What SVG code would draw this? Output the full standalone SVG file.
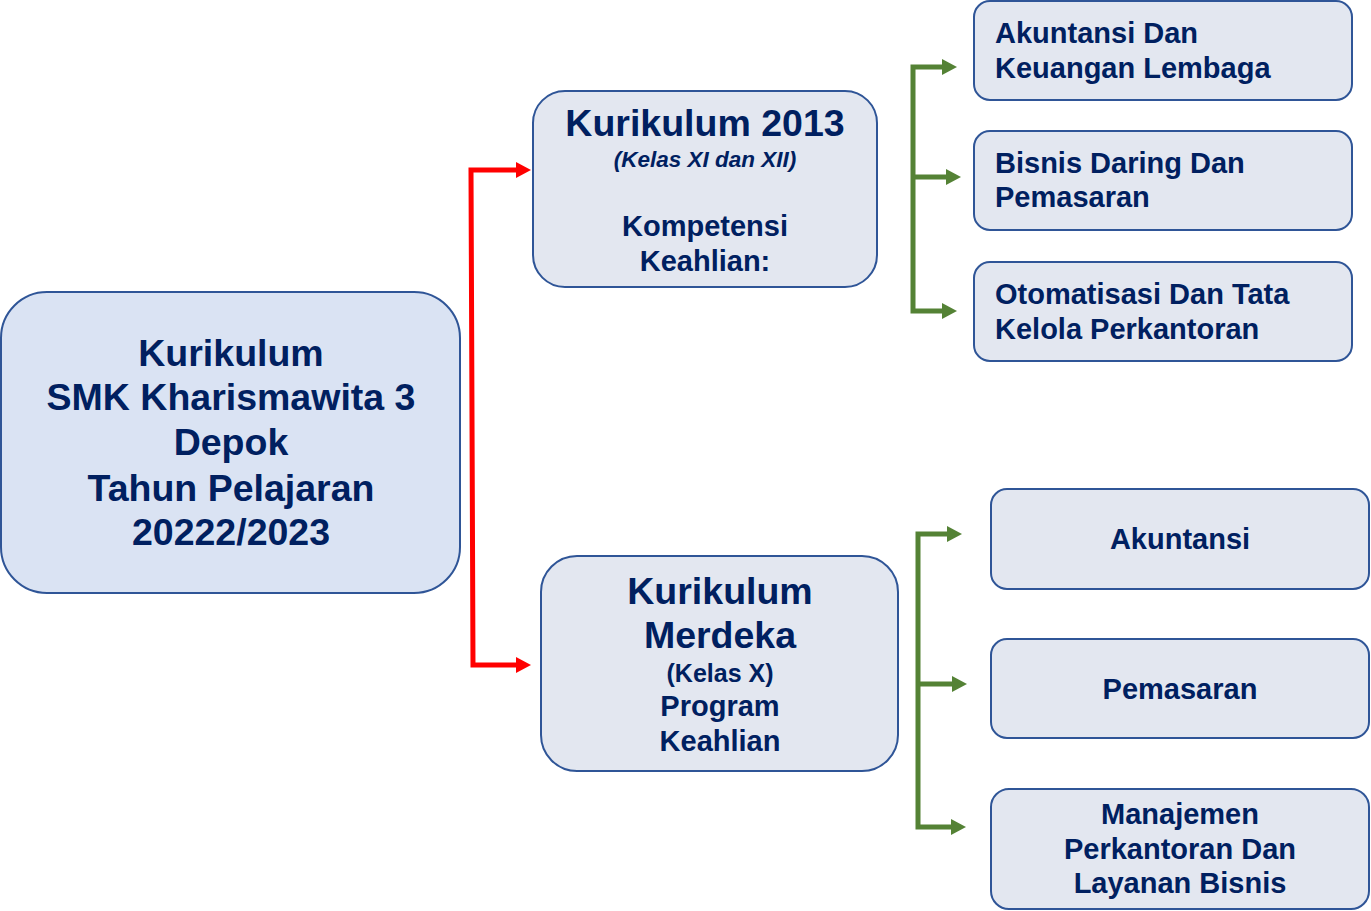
<svg xmlns="http://www.w3.org/2000/svg" width="1371" height="911" viewBox="0 0 1371 911">
<style>
.box{fill:#e3e7f0;stroke:#2f5597;stroke-width:2}
.main{fill:#dae3f3;stroke:#2f5597;stroke-width:2}
text{font-family:"Liberation Sans",Arial,sans-serif;font-weight:bold;fill:#002060}
.c{text-anchor:middle}
.big{font-size:37.5px}
.mid{font-size:29px}
.red{stroke:#ff0000;stroke-width:5;fill:none}
.green{stroke:#548235;stroke-width:5;fill:none}
.rh{fill:#ff0000}
.gh{fill:#548235}
</style>
<defs>
<polygon id="redhead" class="rh" points="-15,-8 0,0 -15,8"/>
<polygon id="greenhead" class="gh" points="-15,-8 0,0 -15,8"/>
</defs>
<rect width="1371" height="911" fill="#ffffff"/>
<g id="connectors">
<polyline class="red" points="518,170 471,170 473,665 518,665"/>
<use href="#redhead" x="531" y="170"/>
<use href="#redhead" x="531" y="665"/>
<polyline class="green" points="945,67 913,67 913,311 945,311"/>
<line class="green" x1="913" y1="177" x2="949" y2="177"/>
<use href="#greenhead" x="957" y="67"/>
<use href="#greenhead" x="961" y="177"/>
<use href="#greenhead" x="957" y="311"/>
<polyline class="green" points="950,534 918,534 918,827 954,827"/>
<line class="green" x1="918" y1="684" x2="955" y2="684"/>
<use href="#greenhead" x="962" y="534"/>
<use href="#greenhead" x="967" y="684"/>
<use href="#greenhead" x="966" y="827"/>
</g>
<g id="main">
<rect class="main" x="1" y="292" width="459" height="301" rx="46"/>
<text class="c big" x="231" y="366">Kurikulum</text>
<text class="c big" x="231" y="410">SMK Kharismawita 3</text>
<text class="c big" x="231" y="455">Depok</text>
<text class="c big" x="231" y="501">Tahun Pelajaran</text>
<text class="c big" x="231" y="545">20222/2023</text>
</g>
<g id="k2013">
<rect class="box" x="533" y="91" width="344" height="196" rx="32"/>
<text class="c big" x="705" y="136">Kurikulum 2013</text>
<text class="c" x="705" y="167" font-size="22.5" font-style="italic">(Kelas XI dan XII)</text>
<text class="c mid" x="705" y="236">Kompetensi</text>
<text class="c mid" x="705" y="271">Keahlian:</text>
</g>
<g id="merdeka">
<rect class="box" x="541" y="556" width="357" height="215" rx="36"/>
<text class="c big" x="720" y="604">Kurikulum</text>
<text class="c big" x="720" y="648">Merdeka</text>
<text class="c" x="720" y="682" font-size="25">(Kelas X)</text>
<text class="c mid" x="720" y="716">Program</text>
<text class="c mid" x="720" y="751">Keahlian</text>
</g>
<g id="akl">
<rect class="box" x="974" y="1" width="378" height="99" rx="16"/>
<text class="mid" x="995" y="43">Akuntansi Dan</text>
<text class="mid" x="995" y="78">Keuangan Lembaga</text>
</g>
<g id="bdp">
<rect class="box" x="974" y="131" width="378" height="99" rx="16"/>
<text class="mid" x="995" y="173">Bisnis Daring Dan</text>
<text class="mid" x="995" y="207">Pemasaran</text>
</g>
<g id="otkp">
<rect class="box" x="974" y="262" width="378" height="99" rx="16"/>
<text class="mid" x="995" y="304">Otomatisasi Dan Tata</text>
<text class="mid" x="995" y="339">Kelola Perkantoran</text>
</g>
<g id="akuntansi">
<rect class="box" x="991" y="489" width="378" height="100" rx="16"/>
<text class="c mid" x="1180" y="549">Akuntansi</text>
</g>
<g id="pemasaran">
<rect class="box" x="991" y="639" width="378" height="99" rx="16"/>
<text class="c mid" x="1180" y="699">Pemasaran</text>
</g>
<g id="mplb">
<rect class="box" x="991" y="789" width="378" height="120" rx="18"/>
<text class="c mid" x="1180" y="824">Manajemen</text>
<text class="c mid" x="1180" y="859">Perkantoran Dan</text>
<text class="c mid" x="1180" y="893">Layanan Bisnis</text>
</g>
</svg>
